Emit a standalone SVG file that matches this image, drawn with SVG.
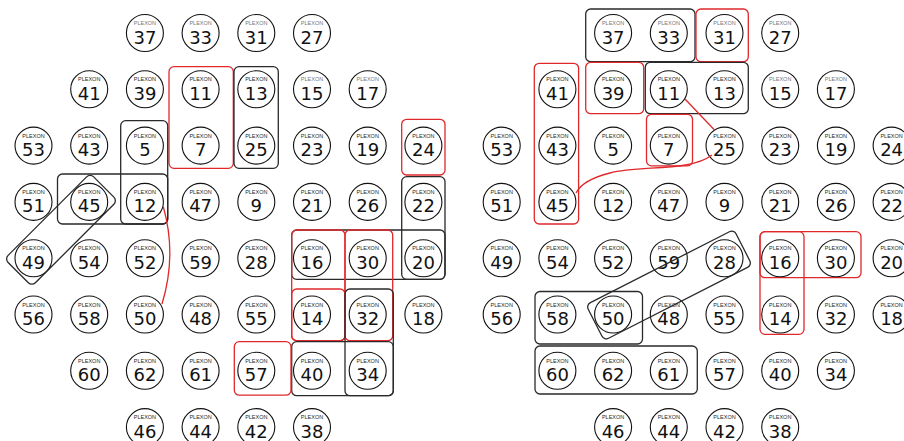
<svg xmlns="http://www.w3.org/2000/svg" width="904" height="441" viewBox="0 0 904 441">
<style>
.nd circle{fill:#fff;stroke:#111;stroke-width:1.1}
.p{font-family:"Liberation Sans",Arial,sans-serif;font-size:5.5px;text-anchor:middle;fill:#1d2a1d}
.lt .p{fill:#777}
.n{font-family:"DejaVu Sans","Liberation Sans",sans-serif;font-size:18px;text-anchor:middle;fill:#111}
.bk{fill:none;stroke:#2a2a2a;stroke-width:1.3}
.rd{fill:none;stroke:#e0282b;stroke-width:1.3}
</style>
<rect width="904" height="441" fill="#fff"/>
<g id="boxes">
<rect class="rd" x="169" y="66.7" width="64.3" height="101.6" rx="5"/>
<rect class="bk" x="234" y="66.7" width="44.3" height="101.6" rx="5"/>
<rect class="bk" x="120.7" y="120.7" width="47" height="103.3" rx="5"/>
<rect class="bk" x="57.5" y="174" width="110.2" height="50" rx="5"/>
<rect class="rd" x="401.7" y="119.3" width="43.3" height="55.7" rx="5"/>
<rect class="bk" x="401.7" y="176.7" width="43.3" height="102.6" rx="5"/>
<rect class="bk" x="291.7" y="230" width="153.3" height="49.3" rx="5"/>
<rect class="rd" x="291.7" y="230" width="53.3" height="110.7" rx="5"/>
<rect class="rd" x="291.7" y="289" width="53.3" height="51.7" rx="5"/>
<rect class="rd" x="345" y="230" width="47.7" height="110.7" rx="5"/>
<rect class="bk" x="345" y="289" width="48.3" height="106.7" rx="5"/>
<rect class="bk" x="291.7" y="341.7" width="101.6" height="54" rx="5"/>
<rect class="rd" x="234.3" y="341.7" width="56.7" height="53.5" rx="5"/>
<rect class="bk" x="585.7" y="9" width="109.3" height="52.7" rx="5"/>
<rect class="rd" x="696" y="9" width="52.3" height="52.7" rx="5"/>
<rect class="rd" x="585.7" y="62.3" width="58" height="51.4" rx="5"/>
<rect class="bk" x="645.3" y="62.3" width="103" height="51.4" rx="5"/>
<rect class="rd" x="534.3" y="63.3" width="44.3" height="160.7" rx="5"/>
<rect class="rd" x="646.5" y="114.3" width="46" height="51.5" rx="5"/>
<rect class="rd" x="760" y="231.7" width="101" height="46" rx="5"/>
<rect class="rd" x="760" y="231.7" width="44" height="102.6" rx="5"/>
<rect class="bk" x="535" y="291.5" width="107.5" height="52.5" rx="5"/>
<rect class="bk" x="535" y="346" width="162.3" height="48" rx="5"/>
</g>
<g id="nodes">
<g id="L37" class="nd lt" transform="translate(144.9,33)"><circle r="18.5"/><text class="p" y="-8">PLEXON</text><text class="n" y="10.5">37</text></g>
<g id="L33" class="nd lt" transform="translate(200.6,33)"><circle r="18.5"/><text class="p" y="-8">PLEXON</text><text class="n" y="10.5">33</text></g>
<g id="L31" class="nd lt" transform="translate(256.3,33)"><circle r="18.5"/><text class="p" y="-8">PLEXON</text><text class="n" y="10.5">31</text></g>
<g id="L27" class="nd lt" transform="translate(312,33)"><circle r="18.5"/><text class="p" y="-8">PLEXON</text><text class="n" y="10.5">27</text></g>
<g id="L41" class="nd" transform="translate(89.2,89.3)"><circle r="18.5"/><text class="p" y="-8">PLEXON</text><text class="n" y="10.5">41</text></g>
<g id="L39" class="nd" transform="translate(144.9,89.3)"><circle r="18.5"/><text class="p" y="-8">PLEXON</text><text class="n" y="10.5">39</text></g>
<g id="L11" class="nd" transform="translate(200.6,89.3)"><circle r="18.5"/><text class="p" y="-8">PLEXON</text><text class="n" y="10.5">11</text></g>
<g id="L13" class="nd" transform="translate(256.3,89.3)"><circle r="18.5"/><text class="p" y="-8">PLEXON</text><text class="n" y="10.5">13</text></g>
<g id="L15" class="nd lt" transform="translate(312,89.3)"><circle r="18.5"/><text class="p" y="-8">PLEXON</text><text class="n" y="10.5">15</text></g>
<g id="L17" class="nd lt" transform="translate(367.7,89.3)"><circle r="18.5"/><text class="p" y="-8">PLEXON</text><text class="n" y="10.5">17</text></g>
<g id="L53" class="nd" transform="translate(33.5,145.6)"><circle r="18.5"/><text class="p" y="-8">PLEXON</text><text class="n" y="10.5">53</text></g>
<g id="L43" class="nd" transform="translate(89.2,145.6)"><circle r="18.5"/><text class="p" y="-8">PLEXON</text><text class="n" y="10.5">43</text></g>
<g id="L5" class="nd" transform="translate(144.9,145.6)"><circle r="18.5"/><text class="p" y="-8">PLEXON</text><text class="n" y="10.5">5</text></g>
<g id="L7" class="nd" transform="translate(200.6,145.6)"><circle r="18.5"/><text class="p" y="-8">PLEXON</text><text class="n" y="10.5">7</text></g>
<g id="L25" class="nd" transform="translate(256.3,145.6)"><circle r="18.5"/><text class="p" y="-8">PLEXON</text><text class="n" y="10.5">25</text></g>
<g id="L23" class="nd" transform="translate(312,145.6)"><circle r="18.5"/><text class="p" y="-8">PLEXON</text><text class="n" y="10.5">23</text></g>
<g id="L19" class="nd" transform="translate(367.7,145.6)"><circle r="18.5"/><text class="p" y="-8">PLEXON</text><text class="n" y="10.5">19</text></g>
<g id="L24" class="nd" transform="translate(423.4,145.6)"><circle r="18.5"/><text class="p" y="-8">PLEXON</text><text class="n" y="10.5">24</text></g>
<g id="L51" class="nd" transform="translate(33.5,201.9)"><circle r="18.5"/><text class="p" y="-8">PLEXON</text><text class="n" y="10.5">51</text></g>
<g id="L45" class="nd" transform="translate(89.2,201.9)"><circle r="18.5"/><text class="p" y="-8">PLEXON</text><text class="n" y="10.5">45</text></g>
<g id="L12" class="nd" transform="translate(144.9,201.9)"><circle r="18.5"/><text class="p" y="-8">PLEXON</text><text class="n" y="10.5">12</text></g>
<g id="L47" class="nd" transform="translate(200.6,201.9)"><circle r="18.5"/><text class="p" y="-8">PLEXON</text><text class="n" y="10.5">47</text></g>
<g id="L9" class="nd" transform="translate(256.3,201.9)"><circle r="18.5"/><text class="p" y="-8">PLEXON</text><text class="n" y="10.5">9</text></g>
<g id="L21" class="nd" transform="translate(312,201.9)"><circle r="18.5"/><text class="p" y="-8">PLEXON</text><text class="n" y="10.5">21</text></g>
<g id="L26" class="nd" transform="translate(367.7,201.9)"><circle r="18.5"/><text class="p" y="-8">PLEXON</text><text class="n" y="10.5">26</text></g>
<g id="L22" class="nd" transform="translate(423.4,201.9)"><circle r="18.5"/><text class="p" y="-8">PLEXON</text><text class="n" y="10.5">22</text></g>
<g id="L49" class="nd" transform="translate(33.5,258.2)"><circle r="18.5"/><text class="p" y="-8">PLEXON</text><text class="n" y="10.5">49</text></g>
<g id="L54" class="nd" transform="translate(89.2,258.2)"><circle r="18.5"/><text class="p" y="-8">PLEXON</text><text class="n" y="10.5">54</text></g>
<g id="L52" class="nd" transform="translate(144.9,258.2)"><circle r="18.5"/><text class="p" y="-8">PLEXON</text><text class="n" y="10.5">52</text></g>
<g id="L59" class="nd" transform="translate(200.6,258.2)"><circle r="18.5"/><text class="p" y="-8">PLEXON</text><text class="n" y="10.5">59</text></g>
<g id="L28" class="nd" transform="translate(256.3,258.2)"><circle r="18.5"/><text class="p" y="-8">PLEXON</text><text class="n" y="10.5">28</text></g>
<g id="L16" class="nd" transform="translate(312,258.2)"><circle r="18.5"/><text class="p" y="-8">PLEXON</text><text class="n" y="10.5">16</text></g>
<g id="L30" class="nd" transform="translate(367.7,258.2)"><circle r="18.5"/><text class="p" y="-8">PLEXON</text><text class="n" y="10.5">30</text></g>
<g id="L20" class="nd" transform="translate(423.4,258.2)"><circle r="18.5"/><text class="p" y="-8">PLEXON</text><text class="n" y="10.5">20</text></g>
<g id="L56" class="nd" transform="translate(33.5,314.5)"><circle r="18.5"/><text class="p" y="-8">PLEXON</text><text class="n" y="10.5">56</text></g>
<g id="L58" class="nd" transform="translate(89.2,314.5)"><circle r="18.5"/><text class="p" y="-8">PLEXON</text><text class="n" y="10.5">58</text></g>
<g id="L50" class="nd" transform="translate(144.9,314.5)"><circle r="18.5"/><text class="p" y="-8">PLEXON</text><text class="n" y="10.5">50</text></g>
<g id="L48" class="nd" transform="translate(200.6,314.5)"><circle r="18.5"/><text class="p" y="-8">PLEXON</text><text class="n" y="10.5">48</text></g>
<g id="L55" class="nd" transform="translate(256.3,314.5)"><circle r="18.5"/><text class="p" y="-8">PLEXON</text><text class="n" y="10.5">55</text></g>
<g id="L14" class="nd" transform="translate(312,314.5)"><circle r="18.5"/><text class="p" y="-8">PLEXON</text><text class="n" y="10.5">14</text></g>
<g id="L32" class="nd" transform="translate(367.7,314.5)"><circle r="18.5"/><text class="p" y="-8">PLEXON</text><text class="n" y="10.5">32</text></g>
<g id="L18" class="nd" transform="translate(423.4,314.5)"><circle r="18.5"/><text class="p" y="-8">PLEXON</text><text class="n" y="10.5">18</text></g>
<g id="L60" class="nd" transform="translate(89.2,370.8)"><circle r="18.5"/><text class="p" y="-8">PLEXON</text><text class="n" y="10.5">60</text></g>
<g id="L62" class="nd" transform="translate(144.9,370.8)"><circle r="18.5"/><text class="p" y="-8">PLEXON</text><text class="n" y="10.5">62</text></g>
<g id="L61" class="nd" transform="translate(200.6,370.8)"><circle r="18.5"/><text class="p" y="-8">PLEXON</text><text class="n" y="10.5">61</text></g>
<g id="L57" class="nd" transform="translate(256.3,370.8)"><circle r="18.5"/><text class="p" y="-8">PLEXON</text><text class="n" y="10.5">57</text></g>
<g id="L40" class="nd" transform="translate(312,370.8)"><circle r="18.5"/><text class="p" y="-8">PLEXON</text><text class="n" y="10.5">40</text></g>
<g id="L34" class="nd" transform="translate(367.7,370.8)"><circle r="18.5"/><text class="p" y="-8">PLEXON</text><text class="n" y="10.5">34</text></g>
<g id="L46" class="nd" transform="translate(144.9,427.1)"><circle r="18.5"/><text class="p" y="-8">PLEXON</text><text class="n" y="10.5">46</text></g>
<g id="L44" class="nd" transform="translate(200.6,427.1)"><circle r="18.5"/><text class="p" y="-8">PLEXON</text><text class="n" y="10.5">44</text></g>
<g id="L42" class="nd" transform="translate(256.3,427.1)"><circle r="18.5"/><text class="p" y="-8">PLEXON</text><text class="n" y="10.5">42</text></g>
<g id="L38" class="nd" transform="translate(312,427.1)"><circle r="18.5"/><text class="p" y="-8">PLEXON</text><text class="n" y="10.5">38</text></g>
<g id="R37" class="nd lt" transform="translate(613.1,33)"><circle r="18.5"/><text class="p" y="-8">PLEXON</text><text class="n" y="10.5">37</text></g>
<g id="R33" class="nd lt" transform="translate(668.8,33)"><circle r="18.5"/><text class="p" y="-8">PLEXON</text><text class="n" y="10.5">33</text></g>
<g id="R31" class="nd lt" transform="translate(724.5,33)"><circle r="18.5"/><text class="p" y="-8">PLEXON</text><text class="n" y="10.5">31</text></g>
<g id="R27" class="nd lt" transform="translate(780.2,33)"><circle r="18.5"/><text class="p" y="-8">PLEXON</text><text class="n" y="10.5">27</text></g>
<g id="R41" class="nd" transform="translate(557.4,89.3)"><circle r="18.5"/><text class="p" y="-8">PLEXON</text><text class="n" y="10.5">41</text></g>
<g id="R39" class="nd" transform="translate(613.1,89.3)"><circle r="18.5"/><text class="p" y="-8">PLEXON</text><text class="n" y="10.5">39</text></g>
<g id="R11" class="nd" transform="translate(668.8,89.3)"><circle r="18.5"/><text class="p" y="-8">PLEXON</text><text class="n" y="10.5">11</text></g>
<g id="R13" class="nd" transform="translate(724.5,89.3)"><circle r="18.5"/><text class="p" y="-8">PLEXON</text><text class="n" y="10.5">13</text></g>
<g id="R15" class="nd lt" transform="translate(780.2,89.3)"><circle r="18.5"/><text class="p" y="-8">PLEXON</text><text class="n" y="10.5">15</text></g>
<g id="R17" class="nd lt" transform="translate(835.9,89.3)"><circle r="18.5"/><text class="p" y="-8">PLEXON</text><text class="n" y="10.5">17</text></g>
<g id="R53" class="nd" transform="translate(501.7,145.6)"><circle r="18.5"/><text class="p" y="-8">PLEXON</text><text class="n" y="10.5">53</text></g>
<g id="R43" class="nd" transform="translate(557.4,145.6)"><circle r="18.5"/><text class="p" y="-8">PLEXON</text><text class="n" y="10.5">43</text></g>
<g id="R5" class="nd" transform="translate(613.1,145.6)"><circle r="18.5"/><text class="p" y="-8">PLEXON</text><text class="n" y="10.5">5</text></g>
<g id="R7" class="nd" transform="translate(668.8,145.6)"><circle r="18.5"/><text class="p" y="-8">PLEXON</text><text class="n" y="10.5">7</text></g>
<g id="R25" class="nd" transform="translate(724.5,145.6)"><circle r="18.5"/><text class="p" y="-8">PLEXON</text><text class="n" y="10.5">25</text></g>
<g id="R23" class="nd" transform="translate(780.2,145.6)"><circle r="18.5"/><text class="p" y="-8">PLEXON</text><text class="n" y="10.5">23</text></g>
<g id="R19" class="nd" transform="translate(835.9,145.6)"><circle r="18.5"/><text class="p" y="-8">PLEXON</text><text class="n" y="10.5">19</text></g>
<g id="R24" class="nd" transform="translate(891.6,145.6)"><circle r="18.5"/><text class="p" y="-8">PLEXON</text><text class="n" y="10.5">24</text></g>
<g id="R51" class="nd" transform="translate(501.7,201.9)"><circle r="18.5"/><text class="p" y="-8">PLEXON</text><text class="n" y="10.5">51</text></g>
<g id="R45" class="nd" transform="translate(557.4,201.9)"><circle r="18.5"/><text class="p" y="-8">PLEXON</text><text class="n" y="10.5">45</text></g>
<g id="R12" class="nd" transform="translate(613.1,201.9)"><circle r="18.5"/><text class="p" y="-8">PLEXON</text><text class="n" y="10.5">12</text></g>
<g id="R47" class="nd" transform="translate(668.8,201.9)"><circle r="18.5"/><text class="p" y="-8">PLEXON</text><text class="n" y="10.5">47</text></g>
<g id="R9" class="nd" transform="translate(724.5,201.9)"><circle r="18.5"/><text class="p" y="-8">PLEXON</text><text class="n" y="10.5">9</text></g>
<g id="R21" class="nd" transform="translate(780.2,201.9)"><circle r="18.5"/><text class="p" y="-8">PLEXON</text><text class="n" y="10.5">21</text></g>
<g id="R26" class="nd" transform="translate(835.9,201.9)"><circle r="18.5"/><text class="p" y="-8">PLEXON</text><text class="n" y="10.5">26</text></g>
<g id="R22" class="nd" transform="translate(891.6,201.9)"><circle r="18.5"/><text class="p" y="-8">PLEXON</text><text class="n" y="10.5">22</text></g>
<g id="R49" class="nd" transform="translate(501.7,258.2)"><circle r="18.5"/><text class="p" y="-8">PLEXON</text><text class="n" y="10.5">49</text></g>
<g id="R54" class="nd" transform="translate(557.4,258.2)"><circle r="18.5"/><text class="p" y="-8">PLEXON</text><text class="n" y="10.5">54</text></g>
<g id="R52" class="nd" transform="translate(613.1,258.2)"><circle r="18.5"/><text class="p" y="-8">PLEXON</text><text class="n" y="10.5">52</text></g>
<g id="R59" class="nd" transform="translate(668.8,258.2)"><circle r="18.5"/><text class="p" y="-8">PLEXON</text><text class="n" y="10.5">59</text></g>
<g id="R28" class="nd" transform="translate(724.5,258.2)"><circle r="18.5"/><text class="p" y="-8">PLEXON</text><text class="n" y="10.5">28</text></g>
<g id="R16" class="nd" transform="translate(780.2,258.2)"><circle r="18.5"/><text class="p" y="-8">PLEXON</text><text class="n" y="10.5">16</text></g>
<g id="R30" class="nd" transform="translate(835.9,258.2)"><circle r="18.5"/><text class="p" y="-8">PLEXON</text><text class="n" y="10.5">30</text></g>
<g id="R20" class="nd" transform="translate(891.6,258.2)"><circle r="18.5"/><text class="p" y="-8">PLEXON</text><text class="n" y="10.5">20</text></g>
<g id="R56" class="nd" transform="translate(501.7,314.5)"><circle r="18.5"/><text class="p" y="-8">PLEXON</text><text class="n" y="10.5">56</text></g>
<g id="R58" class="nd" transform="translate(557.4,314.5)"><circle r="18.5"/><text class="p" y="-8">PLEXON</text><text class="n" y="10.5">58</text></g>
<g id="R50" class="nd" transform="translate(613.1,314.5)"><circle r="18.5"/><text class="p" y="-8">PLEXON</text><text class="n" y="10.5">50</text></g>
<g id="R48" class="nd" transform="translate(668.8,314.5)"><circle r="18.5"/><text class="p" y="-8">PLEXON</text><text class="n" y="10.5">48</text></g>
<g id="R55" class="nd" transform="translate(724.5,314.5)"><circle r="18.5"/><text class="p" y="-8">PLEXON</text><text class="n" y="10.5">55</text></g>
<g id="R14" class="nd" transform="translate(780.2,314.5)"><circle r="18.5"/><text class="p" y="-8">PLEXON</text><text class="n" y="10.5">14</text></g>
<g id="R32" class="nd" transform="translate(835.9,314.5)"><circle r="18.5"/><text class="p" y="-8">PLEXON</text><text class="n" y="10.5">32</text></g>
<g id="R18" class="nd" transform="translate(891.6,314.5)"><circle r="18.5"/><text class="p" y="-8">PLEXON</text><text class="n" y="10.5">18</text></g>
<g id="R60" class="nd" transform="translate(557.4,370.8)"><circle r="18.5"/><text class="p" y="-8">PLEXON</text><text class="n" y="10.5">60</text></g>
<g id="R62" class="nd" transform="translate(613.1,370.8)"><circle r="18.5"/><text class="p" y="-8">PLEXON</text><text class="n" y="10.5">62</text></g>
<g id="R61" class="nd" transform="translate(668.8,370.8)"><circle r="18.5"/><text class="p" y="-8">PLEXON</text><text class="n" y="10.5">61</text></g>
<g id="R57" class="nd" transform="translate(724.5,370.8)"><circle r="18.5"/><text class="p" y="-8">PLEXON</text><text class="n" y="10.5">57</text></g>
<g id="R40" class="nd" transform="translate(780.2,370.8)"><circle r="18.5"/><text class="p" y="-8">PLEXON</text><text class="n" y="10.5">40</text></g>
<g id="R34" class="nd" transform="translate(835.9,370.8)"><circle r="18.5"/><text class="p" y="-8">PLEXON</text><text class="n" y="10.5">34</text></g>
<g id="R46" class="nd" transform="translate(613.1,427.1)"><circle r="18.5"/><text class="p" y="-8">PLEXON</text><text class="n" y="10.5">46</text></g>
<g id="R44" class="nd" transform="translate(668.8,427.1)"><circle r="18.5"/><text class="p" y="-8">PLEXON</text><text class="n" y="10.5">44</text></g>
<g id="R42" class="nd" transform="translate(724.5,427.1)"><circle r="18.5"/><text class="p" y="-8">PLEXON</text><text class="n" y="10.5">42</text></g>
<g id="R38" class="nd" transform="translate(780.2,427.1)"><circle r="18.5"/><text class="p" y="-8">PLEXON</text><text class="n" y="10.5">38</text></g>
</g>
<g id="diagonal-groups">
<rect class="bk" x="-60.5" y="-19.3" width="121" height="38.6" rx="5" transform="translate(61,229.8) rotate(-45)"/>
<rect class="bk" x="-83" y="-20" width="166" height="40" rx="5" transform="translate(669,285) rotate(-27)"/>
</g>
<g id="connectors">
<path class="rd" d="M163.3,206.7 Q177,255 162,304"/>
<path class="rd" d="M685,99 L714,129.5"/>
<path class="rd" d="M712,155 C690,172 640,165 610,173 C590,178 580,185 576,193"/>
</g>
</svg>
